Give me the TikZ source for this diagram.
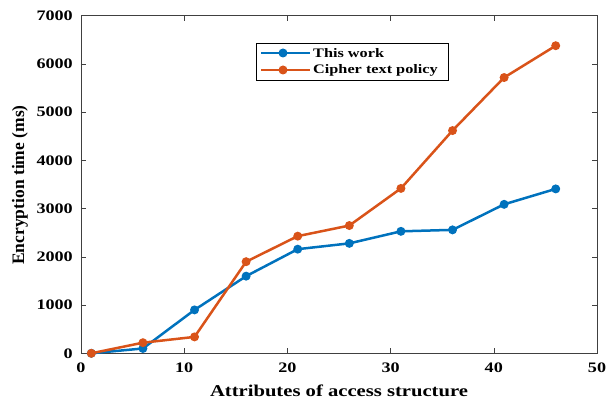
\documentclass[tikz,border=0pt]{standalone}
\usepackage{fontspec}
\setmainfont{Liberation Serif}
\newfontfamily\plotfont[FakeStretch=1.25]{Liberation Serif}
\usepackage{xcolor}
\definecolor{PlotBlue}{RGB}{0,114,189}
\definecolor{PlotOrange}{RGB}{217,83,25}
\tikzstyle{axisBox}=[draw=black!75, line width=0.8pt]
\tikzstyle{tickMark}=[black!75, line width=0.6pt]
\tikzstyle{tickLabel}=[font=\plotfont\bfseries\fontsize{14.5}{15}\selectfont, inner sep=1pt]
\tikzstyle{axisLabel}=[font=\plotfont\bfseries\fontsize{16.5}{17}\selectfont, inner sep=1pt]
\tikzstyle{sideLabel}=[font=\bfseries\fontsize{17.5}{18}\selectfont, inner sep=1pt]
\tikzstyle{legendText}=[font=\plotfont\bfseries\fontsize{13}{14}\selectfont, inner sep=1pt, anchor=west]
\tikzstyle{dataMark}=[circle, inner sep=0pt, minimum size=9pt]
\tikzstyle{blueMark}=[dataMark, fill=PlotBlue]
\tikzstyle{orangeMark}=[dataMark, fill=PlotOrange]
\tikzstyle{blueLine}=[PlotBlue, line width=2.5pt]
\tikzstyle{orangeLine}=[PlotOrange, line width=2.5pt]

\begin{document}
\begin{tikzpicture}[x=10.32pt, y=48.21pt]
    \useasboundingbox (-81pt,-49.7pt) rectangle (526pt,353.3pt);

    % Axes box and ticks
    \draw[axisBox] (0,0) rectangle (50,7);
    \foreach \t in {10,20,30,40} {
        \draw[tickMark] (\t,0) -- ++(0,5pt);
        \draw[tickMark] (\t,7) -- ++(0,-5pt);
    }
    \foreach \t in {1,...,6} {
        \draw[tickMark] (0,\t) -- ++(5pt,0);
        \draw[tickMark] (50,\t) -- ++(-5pt,0);
    }
    \foreach \t in {0,10,20,30,40,50}
        \node[tickLabel, below] (xl\t) at (\t,-8pt) {\t};
    \foreach \t in {0,...,7} {
        \pgfmathtruncatemacro{\v}{\t*1000}
        \node[tickLabel, left] (yl\t) at (-7pt,\t) {\v};
    }

    % Axis labels
    \node[axisLabel] (xlabel) at (25,-37pt) {Attributes of access structure};
    \node[sideLabel, rotate=90] (ylabel) at (-61pt,3.49) {Encryption time (ms)};

    % This work
    \node[blueMark] (b1) at (1,0) {};
    \node[blueMark] (b2) at (6,0.10) {};
    \node[blueMark] (b3) at (11,0.90) {};
    \node[blueMark] (b4) at (16,1.60) {};
    \node[blueMark] (b5) at (21,2.16) {};
    \node[blueMark] (b6) at (26,2.28) {};
    \node[blueMark] (b7) at (31,2.53) {};
    \node[blueMark] (b8) at (36,2.56) {};
    \node[blueMark] (b9) at (41,3.09) {};
    \node[blueMark] (b10) at (46,3.41) {};
    \draw[blueLine] (b1.center) -- (b2.center) -- (b3.center) -- (b4.center) -- (b5.center)
        -- (b6.center) -- (b7.center) -- (b8.center) -- (b9.center) -- (b10.center);

    % Cipher text policy
    \node[orangeMark] (o1) at (1,0) {};
    \node[orangeMark] (o2) at (6,0.22) {};
    \node[orangeMark] (o3) at (11,0.34) {};
    \node[orangeMark] (o4) at (16,1.90) {};
    \node[orangeMark] (o5) at (21,2.43) {};
    \node[orangeMark] (o6) at (26,2.65) {};
    \node[orangeMark] (o7) at (31,3.42) {};
    \node[orangeMark] (o8) at (36,4.62) {};
    \node[orangeMark] (o9) at (41,5.72) {};
    \node[orangeMark] (o10) at (46,6.38) {};
    \draw[orangeLine] (o1.center) -- (o2.center) -- (o3.center) -- (o4.center) -- (o5.center)
        -- (o6.center) -- (o7.center) -- (o8.center) -- (o9.center) -- (o10.center);

    % Legend
    \draw[black, line width=0.8pt, fill=white] (175pt,273.3pt) rectangle (367pt,310.3pt);
    \coordinate (lb1) at (180pt,300.3pt);
    \coordinate (lb2) at (229pt,300.3pt);
    \draw[blueLine] (lb1) -- (lb2);
    \node[blueMark] (blueLegend) at (202pt,300.3pt) {};
    \node[legendText] (blueText) at (231pt,300.3pt) {This work};
    \coordinate (lo1) at (180pt,283.3pt);
    \coordinate (lo2) at (229pt,283.3pt);
    \draw[orangeLine] (lo1) -- (lo2);
    \node[orangeMark] (orangeLegend) at (202pt,283.3pt) {};
    \node[legendText] (orangeText) at (231pt,283.3pt) {Cipher text policy};

\end{tikzpicture}
\end{document}
